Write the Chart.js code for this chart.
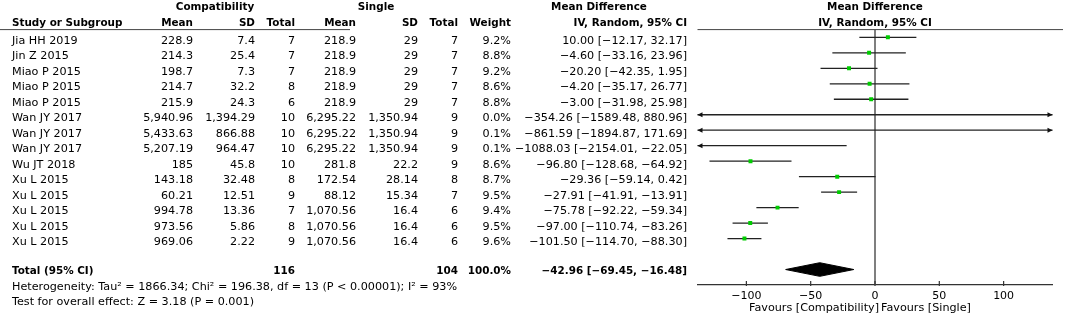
<!DOCTYPE html>
<html>
<head>
<meta charset="utf-8">
<script src="https://cdn.jsdelivr.net/npm/chart.js@4.4.1/dist/chart.umd.min.js"></script>
<style>
  html, body { margin: 0; padding: 0; background: #fff; }
  #wrap { width: 1065px; height: 316px; }
</style>
</head>
<body>
<div id="wrap"><canvas id="forest" width="1065" height="316"></canvas></div>
<script>
const studies = ['Jia HH 2019', 'Jin Z 2015', 'Miao P 2015', 'Miao P 2015', 'Miao P 2015',
    'Wan JY 2017', 'Wan JY 2017', 'Wan JY 2017', 'Wu JT 2018',
    'Xu L 2015', 'Xu L 2015', 'Xu L 2015', 'Xu L 2015', 'Xu L 2015'];
const compMean = [228.9, 214.3, 198.7, 214.7, 215.9, 5940.96, 5433.63, 5207.19, 185, 143.18, 60.21, 994.78, 973.56, 969.06];
const compSD = [7.4, 25.4, 7.3, 32.2, 24.3, 1394.29, 866.88, 964.47, 45.8, 32.48, 12.51, 13.36, 5.86, 2.22];
const compN = [7, 7, 7, 8, 6, 10, 10, 10, 10, 8, 9, 7, 8, 9];
const singleMean = [218.9, 218.9, 218.9, 218.9, 218.9, 6295.22, 6295.22, 6295.22, 281.8, 172.54, 88.12, 1070.56, 1070.56, 1070.56];
const singleSD = [29, 29, 29, 29, 29, 1350.94, 1350.94, 1350.94, 22.2, 28.14, 15.34, 16.4, 16.4, 16.4];
const singleN = [7, 7, 7, 7, 7, 9, 9, 9, 9, 8, 7, 6, 6, 6];
const weights = [9.2, 8.8, 9.2, 8.6, 8.8, 0.0, 0.1, 0.1, 8.6, 8.7, 9.5, 9.4, 9.5, 9.6];
const meanDiff = [10.00, -4.60, -20.20, -4.20, -3.00, -354.26, -861.59, -1088.03, -96.80, -29.36, -27.91, -75.78, -97.00, -101.50];
const ciLow = [-12.17, -33.16, -42.35, -35.17, -31.98, -1589.48, -1894.87, -2154.01, -128.68, -59.14, -41.91, -92.22, -110.74, -114.70];
const ciHigh = [32.17, 23.96, 1.95, 26.77, 25.98, 880.96, 171.69, -22.05, -64.92, 0.42, -13.91, -59.34, -83.26, -88.30];

const totalN = [116, 104];
const totalMD = [-42.96, -69.45, -16.48]; // estimate, low, high
const heterogeneity = 'Heterogeneity: Tau\u00b2 = 1866.34; Chi\u00b2 = 196.38, df = 13 (P < 0.00001); I\u00b2 = 93%';
const overallTest = 'Test for overall effect: Z = 3.18 (P = 0.001)';
const tickVals = [-100, -50, 0, 50, 100];

const xMin = -138, xMax = 138;
const totalRow = 15;
const FONT = '"DejaVu Sans", sans-serif';

const minus = s => String(s).replace(/-/g, '\u2212');
const num = v => v.toLocaleString('en-US', { maximumFractionDigits: 2 });
const md2 = v => minus(v.toFixed(2));
const ciText = (m, l, h) => `${md2(m)} [${md2(l)}, ${md2(h)}]`;

// one line per confidence interval
const ciSets = studies.map((s, i) => ({
    type: 'line',
    data: [{ x: ciLow[i], y: i }, { x: ciHigh[i], y: i }],
    borderColor: '#222',
    borderWidth: 1.3,
    pointRadius: 0,
    order: 2
}));

const tablePlugin = {
    id: 'forestTable',
    afterDraw(chart) {
        const { ctx, chartArea, scales: { x, y } } = chart;
        ctx.save();
        ctx.fillStyle = '#000';
        const put = (t, px, py, align, bold) => {
            ctx.font = bold ? 'bold 10.4px ' + FONT : '11.2px ' + FONT;
            ctx.textAlign = align;
            ctx.fillText(t, px, py);
        };

        // headers
        put('Compatibility', 215, 10, 'center', true);
        put('Single', 376, 10, 'center', true);
        put('Mean Difference', 599, 10, 'center', true);
        put('Study or Subgroup', 12, 26, 'left', true);
        put('Mean', 193, 26, 'right', true);
        put('SD', 255, 26, 'right', true);
        put('Total', 295, 26, 'right', true);
        put('Mean', 356, 26, 'right', true);
        put('SD', 418, 26, 'right', true);
        put('Total', 458, 26, 'right', true);
        put('Weight', 511, 26, 'right', true);
        put('IV, Random, 95% CI', 687, 26, 'right', true);
        const zeroX = x.getPixelForValue(0);
        put('Mean Difference', zeroX, 10, 'center', true);
        put('IV, Random, 95% CI', zeroX, 26, 'center', true);

        // study rows
        studies.forEach((s, i) => {
            const py = y.getPixelForValue(i) + 6.5;
            put(s, 12, py, 'left');
            put(num(compMean[i]), 193, py, 'right');
            put(num(compSD[i]), 255, py, 'right');
            put(String(compN[i]), 295, py, 'right');
            put(num(singleMean[i]), 356, py, 'right');
            put(num(singleSD[i]), 418, py, 'right');
            put(String(singleN[i]), 458, py, 'right');
            put(weights[i].toFixed(1) + '%', 511, py, 'right');
            put(ciText(meanDiff[i], ciLow[i], ciHigh[i]), 687, py, 'right');
        });

        // total row
        const ty = y.getPixelForValue(totalRow) + 4;
        put('Total (95% CI)', 12, ty, 'left', true);
        put(String(totalN[0]), 295, ty, 'right', true);
        put(String(totalN[1]), 458, ty, 'right', true);
        put('100.0%', 511, ty, 'right', true);
        put(ciText(totalMD[0], totalMD[1], totalMD[2]), 687, ty, 'right', true);
        put(heterogeneity, 12, chartArea.bottom + 5, 'left');
        put(overallTest, 12, chartArea.bottom + 19.5, 'left');

        // favours labels
        put('Favours [Compatibility]', zeroX + 4, chartArea.bottom + 25.5, 'right');
        put('Favours [Single]', zeroX + 6, chartArea.bottom + 25.5, 'left');

        // header rule
        ctx.strokeStyle = '#444';
        ctx.lineWidth = 1;
        ctx.beginPath();
        ctx.moveTo(0, chartArea.top);
        ctx.lineTo(350, chartArea.top);
        ctx.moveTo(chartArea.left, chartArea.top);
        ctx.lineTo(1063, chartArea.top);
        ctx.stroke();

        // tick marks pointing up
        ctx.strokeStyle = '#333';
        ctx.lineWidth = 1.2;
        ctx.beginPath();
        tickVals.forEach(v => {
            const px = x.getPixelForValue(v);
            ctx.moveTo(px, chartArea.bottom + 1);
            ctx.lineTo(px, chartArea.bottom - 4);
        });
        ctx.stroke();

        // arrows for intervals running off the scale
        ctx.fillStyle = '#111';
        studies.forEach((s, i) => {
            const py = y.getPixelForValue(i);
            if (ciLow[i] < xMin) {
                ctx.beginPath();
                ctx.moveTo(chartArea.left, py);
                ctx.lineTo(chartArea.left + 5, py - 2.5);
                ctx.lineTo(chartArea.left + 5, py + 2.5);
                ctx.closePath();
                ctx.fill();
            }
            if (ciHigh[i] > xMax) {
                ctx.beginPath();
                ctx.moveTo(chartArea.right, py);
                ctx.lineTo(chartArea.right - 5, py - 2.5);
                ctx.lineTo(chartArea.right - 5, py + 2.5);
                ctx.closePath();
                ctx.fill();
            }
        });
        ctx.restore();
    }
};

const chart = new Chart(document.getElementById('forest'), {
    type: 'scatter',
    data: {
        datasets: [
            {
                data: studies.map((s, i) => ({ x: meanDiff[i], y: i })),
                pointStyle: 'rect',
                pointRadius: 2.8,
                backgroundColor: '#00cc00',
                borderWidth: 0,
                order: 0
            },
            {
                type: 'line',
                data: [
                    { x: totalMD[1], y: totalRow },
                    { x: totalMD[0], y: totalRow - 0.44 },
                    { x: totalMD[2], y: totalRow },
                    { x: totalMD[0], y: totalRow + 0.44 },
                    { x: totalMD[1], y: totalRow }
                ],
                borderColor: '#000',
                backgroundColor: '#000',
                borderWidth: 1,
                fill: 'shape',
                pointRadius: 0,
                order: 1
            },
            {
                type: 'line',
                data: [{ x: 0, y: -0.5 }, { x: 0, y: 16 }],
                borderColor: '#555',
                borderWidth: 1.5,
                pointRadius: 0,
                order: 3
            },
            ...ciSets
        ]
    },
    options: {
        responsive: false,
        animation: false,
        devicePixelRatio: 1,
        layout: { padding: { left: 697.5, right: 12.5, top: 29.6, bottom: 0 } },
        plugins: { legend: { display: false }, tooltip: { enabled: false } },
        scales: {
            x: {
                type: 'linear',
                min: xMin,
                max: xMax,
                grid: { display: false },
                border: { display: true, color: '#333', width: 1.3 },
                afterBuildTicks: scale => { scale.ticks = tickVals.map(v => ({ value: v })); },
                afterFit: scale => { scale.height = 31; },
                ticks: {
                    color: '#000',
                    padding: -3,
                    font: { family: FONT, size: 11 },
                    callback: v => minus(v)
                }
            },
            y: {
                type: 'linear',
                display: false,
                reverse: true,
                min: -0.5,
                max: 16
            }
        }
    },
    plugins: [tablePlugin]
});
</script>
</body>
</html>
